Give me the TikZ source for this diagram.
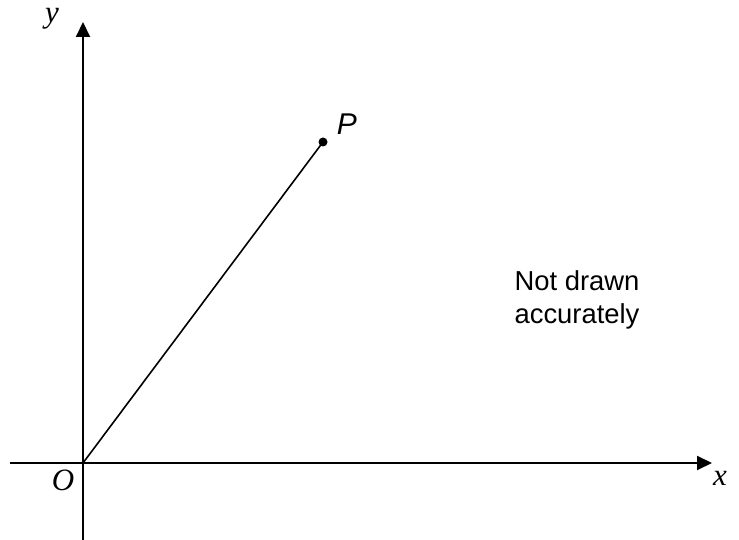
\documentclass[tikz,border=0pt]{standalone}
\usepackage{fontspec}
\setmainfont{Liberation Serif}
\setsansfont{Liberation Sans}
\usetikzlibrary{arrows.meta,positioning,calc}

\begin{document}
\begin{tikzpicture}[>={Triangle[length=7.5pt,width=7pt]},x=0.5pt,y=0.5pt]
  \useasboundingbox (0,0) rectangle (739,540);
  % axes
  \coordinate (O) at (83,77);
  \coordinate (xl) at (10,77);
  \coordinate (xr) at (712,77);
  \coordinate (yb) at (83,0);
  \coordinate (yt) at (83,518);
  \draw[line width=1pt,->] (xl) -- (xr);
  \draw[line width=1pt,->] (yb) -- (yt);
  \node[font=\fontsize{15.5}{18}\selectfont\itshape] (xlab) at (720,62) {x};
  \node[font=\fontsize{15.5}{18}\selectfont\itshape] (ylab) at (52,521) {y};
  \node[font=\fontsize{15.5}{18}\selectfont\itshape] (olab) at (63,60) {O};
  % the point P
  \coordinate (P) at (323,398);
  \draw[line width=0.8pt] (O) -- (P);
  \fill (P) circle (4.5);
  \node[font=\fontsize{15}{18}\selectfont\sffamily\itshape] (plab) at (347,416) {P};
  % note
  \node[font=\fontsize{13.7}{16.5}\selectfont\sffamily,align=left] (note) at (577,240) {Not drawn\\accurately};
\end{tikzpicture}
\end{document}
